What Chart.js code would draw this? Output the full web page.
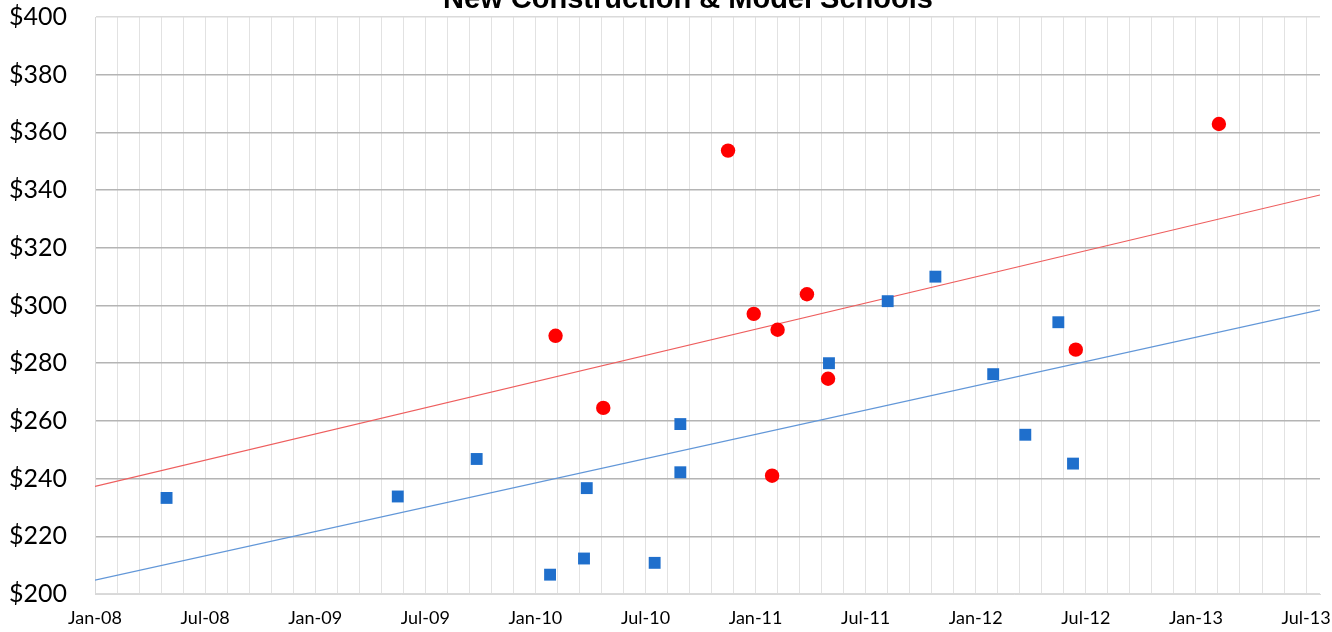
<!DOCTYPE html>
<html>
<head>
<meta charset="utf-8">
<script src="https://cdn.jsdelivr.net/npm/chart.js@4.4.1/dist/chart.umd.min.js"></script>
<style>
  html, body { margin: 0; padding: 0; background: #fff; }
  #wrap { width: 1332px; height: 632px; }
</style>
</head>
<body>
<div id="wrap"><canvas id="chart"></canvas></div>
<script>
// x values are months since Jan 2008
const xTickLabels = ['Jan-08', 'Jul-08', 'Jan-09', 'Jul-09', 'Jan-10', 'Jul-10',
                     'Jan-11', 'Jul-11', 'Jan-12', 'Jul-12', 'Jan-13', 'Jul-13'];
const xMax = 66.76;

const blueX = [3.9, 16.5, 20.8, 24.8, 26.65, 30.5, 26.8, 31.9, 31.9, 40.0, 43.2, 45.8, 48.95, 50.7, 52.5, 53.3];
const blueY = [233.3, 233.8, 246.8, 206.7, 212.3, 210.8, 236.7, 258.9, 242.2, 280.0, 301.5, 310.0, 276.2, 255.2, 294.2, 245.2];

const redX = [25.1, 27.7, 34.5, 35.9, 37.2, 38.8, 39.95, 36.9, 53.45, 61.25];
const redY = [289.5, 264.5, 353.7, 297.1, 291.6, 303.9, 274.6, 241.0, 284.7, 362.9];

// trendline end points
const trendX = [0, xMax];
const redTrend = [237.3, 338.3];
const blueTrend = [204.8, 298.5];

const toPoints = (xs, ys) => xs.map((x, i) => ({ x: x, y: ys[i] }));

const titlePlugin = {
    id: 'cutTitle',
    afterDraw(chart) {
        const ctx = chart.ctx;
        ctx.save();
        ctx.font = 'bold 29px "Liberation Sans", Arial, sans-serif';
        ctx.fillStyle = '#000';
        ctx.textAlign = 'center';
        ctx.textBaseline = 'alphabetic';
        ctx.fillText('New Construction & Model Schools', 688, 8);
        ctx.restore();
    }
};

new Chart(document.getElementById('chart').getContext('2d'), {
    type: 'scatter',
    data: {
        datasets: [
            {
                label: 'Red trend',
                type: 'line',
                data: toPoints(trendX, redTrend),
                borderColor: '#ee5e5e',
                borderWidth: 1.2,
                pointRadius: 0,
                fill: false,
                order: 3
            },
            {
                label: 'Blue trend',
                type: 'line',
                data: toPoints(trendX, blueTrend),
                borderColor: '#6297d8',
                borderWidth: 1.2,
                pointRadius: 0,
                fill: false,
                order: 4
            },
            {
                label: 'Blue',
                data: toPoints(blueX, blueY),
                pointStyle: 'rect',
                pointRadius: 8.4,
                backgroundColor: '#1f6fcc',
                borderColor: '#1f6fcc',
                borderWidth: 0,
                order: 2
            },
            {
                label: 'Red',
                data: toPoints(redX, redY),
                pointStyle: 'circle',
                pointRadius: 7.2,
                backgroundColor: '#ff0000',
                borderColor: '#ff0000',
                borderWidth: 0,
                order: 1
            }
        ]
    },
    options: {
        responsive: true,
        maintainAspectRatio: false,
        animation: false,
        layout: { padding: { top: 17, right: 12, left: 0, bottom: 0 } },
        plugins: {
            legend: { display: false },
            tooltip: { enabled: false },
            title: { display: false }
        },
        scales: {
            x: {
                type: 'linear',
                min: 0,
                max: xMax,
                afterBuildTicks(scale) {
                    scale.ticks = Array.from({ length: 56 }, (_, i) => ({ value: i * 1.2 }));
                },
                afterFit(scale) {
                    scale.height = 38;
                    scale.paddingLeft = 0;
                    scale.paddingRight = 0;
                },
                ticks: {
                    autoSkip: false,
                    maxRotation: 0,
                    padding: 13,
                    color: '#000',
                    font: { family: 'Lato', size: 18 },
                    callback: (v, i) => (i % 5 === 0 ? xTickLabels[i / 5] : '')
                },
                grid: { color: '#e2e2e2', lineWidth: 1, drawTicks: false },
                border: { color: '#d8d8d8', width: 1 }
            },
            y: {
                min: 200,
                max: 400,
                afterFit(scale) {
                    scale.width = 95;
                    scale.paddingTop = 0;
                    scale.paddingBottom = 0;
                },
                ticks: {
                    stepSize: 20,
                    padding: 28,
                    color: '#000',
                    font: { family: 'Lato', size: 25 },
                    callback: v => '$' + v
                },
                grid: {
                    color: ctx => (ctx.tick && (ctx.tick.value === 200 || ctx.tick.value === 400)) ? '#dadada' : '#b4b4b4',
                    lineWidth: 1.5,
                    drawTicks: false
                },
                border: { color: '#d8d8d8', width: 1 }
            }
        }
    },
    plugins: [titlePlugin]
});
</script>
</body>
</html>
